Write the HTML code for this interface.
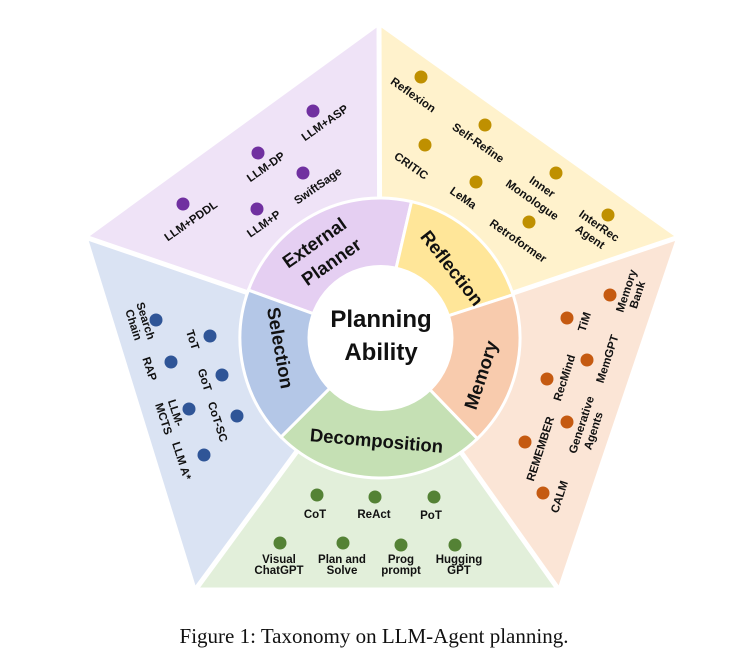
<!DOCTYPE html>
<html><head><meta charset="utf-8"><style>
html,body{margin:0;padding:0;background:#fff;width:743px;height:663px;overflow:hidden}
svg text{font-family:"Liberation Sans",sans-serif;font-weight:bold;fill:#111}
.l{font-size:11.5px}
.r{font-size:18.5px}
</style></head><body>
<svg width="743" height="663" viewBox="0 0 743 663" xmlns="http://www.w3.org/2000/svg">
<polygon points="86,237 379,24 380,338" fill="#efe3f7"/>
<polygon points="379,24 678,237 380,338" fill="#fff2cc"/>
<polygon points="678,237 559,589 380,338" fill="#fbe5d6"/>
<polygon points="559,589 195,589 380,338" fill="#e2efda"/>
<polygon points="195,589 86,237 380,338" fill="#dae3f3"/>
<g stroke="#fff" stroke-width="5" fill="none">
<polygon points="86,237 379,24 678,237 559,589 195,589" stroke-width="3"/>
<line x1="379" y1="20" x2="380" y2="338"/>
<line x1="82" y1="236" x2="380" y2="338"/>
<line x1="682" y1="236" x2="380" y2="338"/>
<line x1="561" y1="593" x2="380" y2="338"/>
<line x1="193" y1="593" x2="380" y2="338"/>
</g>
<g stroke="#fff" stroke-width="3">
<path d="M380,338 L248.4,290.1 A140,140 0 0 1 411.5,201.6 Z" fill="#e5cff2"/>
<path d="M380,338 L411.5,201.6 A140,140 0 0 1 513.1,294.7 Z" fill="#ffe699"/>
<path d="M380,338 L513.1,294.7 A140,140 0 0 1 477.3,438.7 Z" fill="#f8cbad"/>
<path d="M380,338 L477.3,438.7 A140,140 0 0 1 281.0,437.0 Z" fill="#c5e0b4"/>
<path d="M380,338 L281.0,437.0 A140,140 0 0 1 248.4,290.1 Z" fill="#b4c7e7"/>
</g>
<circle cx="380.5" cy="338" r="73" fill="#fff"/>
<text x="381" y="327" text-anchor="middle" font-size="24">Planning</text>
<text x="381" y="360" text-anchor="middle" font-size="24">Ability</text>
<text class="r" text-anchor="middle" transform="translate(318,248) rotate(-35)">External</text>
<text class="r" text-anchor="middle" transform="translate(335,267) rotate(-35)">Planner</text>
<text class="r" text-anchor="middle" transform="translate(447,272) rotate(52)">Reflection</text>
<text class="r" text-anchor="middle" transform="translate(487,377) rotate(-72)">Memory</text>
<text class="r" text-anchor="middle" transform="translate(376,447) rotate(5)">Decomposition</text>
<text class="r" text-anchor="middle" transform="translate(274,349) rotate(80)">Selection</text>
<g fill="#7030a0">
<circle cx="313" cy="111" r="6.5"/><circle cx="258" cy="153" r="6.5"/><circle cx="303" cy="173" r="6.5"/><circle cx="183" cy="204" r="6.5"/><circle cx="257" cy="209" r="6.5"/>
</g>
<g text-anchor="middle">
<text class="l" transform="translate(327,126) rotate(-35)">LLM+ASP</text>
<text class="l" transform="translate(268,170) rotate(-35)">LLM-DP</text>
<text class="l" transform="translate(320,189) rotate(-35)">SwiftSage</text>
<text class="l" transform="translate(193,224) rotate(-35)">LLM+PDDL</text>
<text class="l" transform="translate(266,227) rotate(-35)">LLM+P</text>
</g>
<g fill="#bf9000">
<circle cx="421" cy="77" r="6.5"/><circle cx="485" cy="125" r="6.5"/><circle cx="425" cy="145" r="6.5"/><circle cx="556" cy="173" r="6.5"/><circle cx="476" cy="182" r="6.5"/><circle cx="529" cy="222" r="6.5"/><circle cx="608" cy="215" r="6.5"/>
</g>
<g text-anchor="middle">
<text class="l" transform="translate(411,98) rotate(35)">Reflexion</text>
<text class="l" transform="translate(476,146) rotate(35)">Self-Refine</text>
<text class="l" transform="translate(409,169) rotate(35)">CRITIC</text>
<text class="l" transform="translate(540,190) rotate(35)">Inner</text>
<text class="l" transform="translate(530,203) rotate(35)">Monologue</text>
<text class="l" transform="translate(461,201) rotate(35)">LeMa</text>
<text class="l" transform="translate(516,244) rotate(35)">Retroformer</text>
<text class="l" transform="translate(597,229) rotate(35)">InterRec</text>
<text class="l" transform="translate(588,240) rotate(35)">Agent</text>
</g>
<g fill="#c55a11">
<circle cx="610" cy="295" r="6.5"/><circle cx="567" cy="318" r="6.5"/><circle cx="587" cy="360" r="6.5"/><circle cx="547" cy="379" r="6.5"/><circle cx="567" cy="422" r="6.5"/><circle cx="525" cy="442" r="6.5"/><circle cx="543" cy="493" r="6.5"/>
</g>
<g text-anchor="middle">
<text class="l" transform="translate(630,292) rotate(-72)">Memory</text>
<text class="l" transform="translate(641,296) rotate(-72)">Bank</text>
<text class="l" transform="translate(588,323) rotate(-72)">TiM</text>
<text class="l" transform="translate(611,360) rotate(-72)">MemGPT</text>
<text class="l" transform="translate(568,379) rotate(-72)">RecMind</text>
<text class="l" transform="translate(585,426) rotate(-72)">Generative</text>
<text class="l" transform="translate(597,432) rotate(-72)">Agents</text>
<text class="l" transform="translate(544,450) rotate(-72)">REMEMBER</text>
<text class="l" transform="translate(563,498) rotate(-72)">CALM</text>
</g>
<g fill="#2f5597">
<circle cx="156" cy="320" r="6.5"/><circle cx="210" cy="336" r="6.5"/><circle cx="171" cy="362" r="6.5"/><circle cx="222" cy="375" r="6.5"/><circle cx="189" cy="409" r="6.5"/><circle cx="237" cy="416" r="6.5"/><circle cx="204" cy="455" r="6.5"/>
</g>
<g text-anchor="middle">
<text class="l" transform="translate(142,322) rotate(72)">Search</text>
<text class="l" transform="translate(130,326) rotate(72)">Chain</text>
<text class="l" transform="translate(189,341) rotate(72)">ToT</text>
<text class="l" transform="translate(146,370) rotate(72)">RAP</text>
<text class="l" transform="translate(201,381) rotate(72)">GoT</text>
<text class="l" transform="translate(172,414) rotate(72)">LLM-</text>
<text class="l" transform="translate(160,420) rotate(72)">MCTS</text>
<text class="l" transform="translate(214,423) rotate(72)">CoT-SC</text>
<text class="l" transform="translate(178,462) rotate(72)">LLM A*</text>
</g>
<g fill="#548235">
<circle cx="317" cy="495" r="6.5"/><circle cx="375" cy="497" r="6.5"/><circle cx="434" cy="497" r="6.5"/><circle cx="280" cy="543" r="6.5"/><circle cx="343" cy="543" r="6.5"/><circle cx="401" cy="545" r="6.5"/><circle cx="455" cy="545" r="6.5"/>
</g>
<g text-anchor="middle">
<text class="l" x="315" y="518">CoT</text>
<text class="l" x="374" y="518">ReAct</text>
<text class="l" x="431" y="519">PoT</text>
<text class="l" x="279" y="563">Visual</text>
<text class="l" x="279" y="574">ChatGPT</text>
<text class="l" x="342" y="563">Plan and</text>
<text class="l" x="342" y="574">Solve</text>
<text class="l" x="401" y="563">Prog</text>
<text class="l" x="401" y="574">prompt</text>
<text class="l" x="459" y="563">Hugging</text>
<text class="l" x="459" y="574">GPT</text>
</g>
<text x="374" y="643" text-anchor="middle" style="font-family:'Liberation Serif',serif;font-weight:normal;font-size:21px">Figure 1: Taxonomy on LLM-Agent planning.</text>
</svg>
</body></html>
